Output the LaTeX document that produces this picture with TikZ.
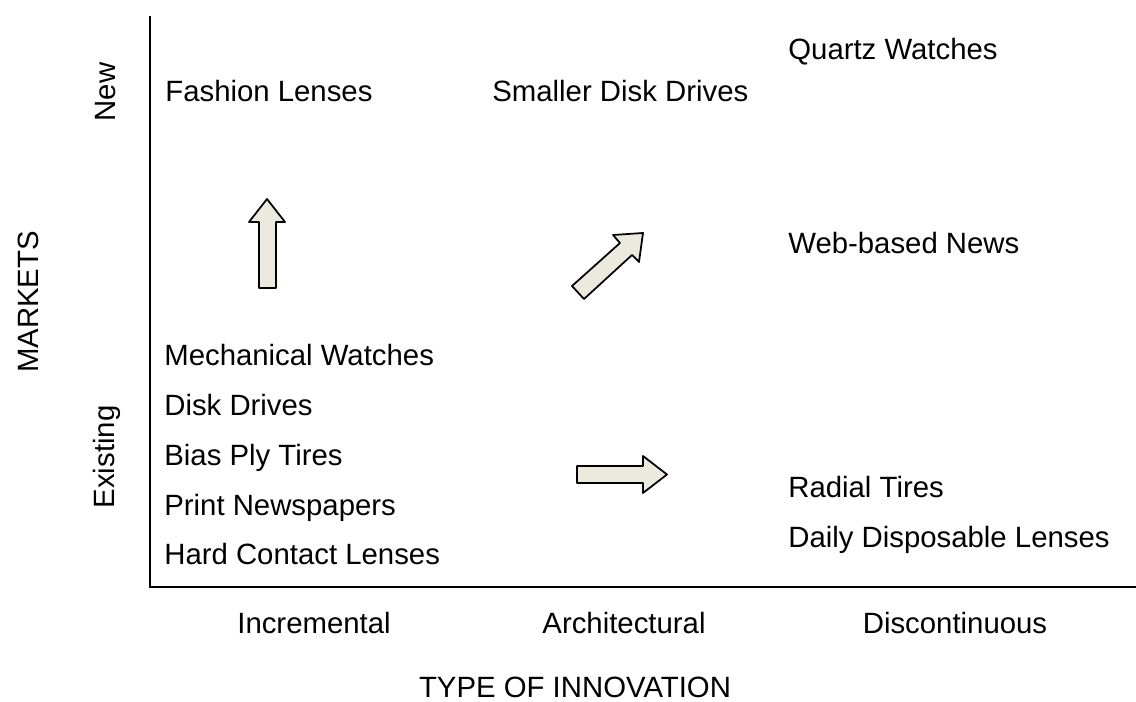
\documentclass[tikz,border=0pt]{standalone}
\usepackage{fontspec}
\setmainfont{Liberation Sans}
\usepackage{amsmath, tikz, tkz-euclide}
\definecolor{arrowfill}{RGB}{236,234,223}

\begin{document}
\begin{tikzpicture}[x=0.02cm, y=-0.02cm,
    font=\fontsize{16.7}{20}\selectfont,
    every node/.style={inner sep=0pt, anchor=base west}]
    \useasboundingbox (0,0) rectangle (1136,702);
    \coordinate (top) at (150,16);
    \coordinate (right) at (1136,587);
    \draw[line width=1.7pt] (top) |- (right);
    % block arrows
    \tkzDefPoints{259/288/U1, 259/222/U2, 249/222/U3, 267/199/U4, 285/222/U5, 276/222/U6, 276/288/U7}
    \tkzDrawPolygon[draw=black, line width=1pt, fill=arrowfill](U1,U2,U3,U4,U5,U6,U7)
    \tkzDefPoints{572/286/D1, 620/243/D2, 613/235/D3, 643/233/D4, 639/262/D5, 632/255/D6, 584/299/D7}
    \tkzDrawPolygon[draw=black, line width=1pt, fill=arrowfill](D1,D2,D3,D4,D5,D6,D7)
    \tkzDefPoints{577/466/R1, 643/466/R2, 643/456/R3, 667/474.5/R4, 643/493/R5, 643/483/R6, 577/483/R7}
    \tkzDrawPolygon[draw=black, line width=1pt, fill=arrowfill](R1,R2,R3,R4,R5,R6,R7)
    % quadrant entries
    \node (fashion) at (165,102) {Fashion Lenses};
    \node (smaller) at (492,102) {Smaller Disk Drives};
    \node (quartz) at (788,60) {Quartz Watches};
    \node (web) at (788,254) {Web-based News};
    \node (mech) at (164,366) {Mechanical Watches};
    \node (disk) at (164,416) {Disk Drives};
    \node (bias) at (164,465) {Bias Ply Tires};
    \node (print) at (164,515) {Print Newspapers};
    \node (hard) at (164,564) {Hard Contact Lenses};
    \node (radial) at (788,498) {Radial Tires};
    \node (daily) at (788,547) {Daily Disposable Lenses};
    % axis labels
    \node (incr) at (314,633) [anchor=base] {Incremental};
    \node (arch) at (624,633) [anchor=base] {Architectural};
    \node (disc) at (955,633) [anchor=base] {Discontinuous};
    \node (type) at (575,697) [anchor=base] {TYPE OF INNOVATION};
    \node (new) at (115,92) [anchor=base, rotate=90] {New};
    \node (exist) at (114,457) [anchor=base, rotate=90] {Existing};
    \node (markets) at (38,302) [anchor=base, rotate=90] {MARKETS};
\end{tikzpicture}
\end{document}
